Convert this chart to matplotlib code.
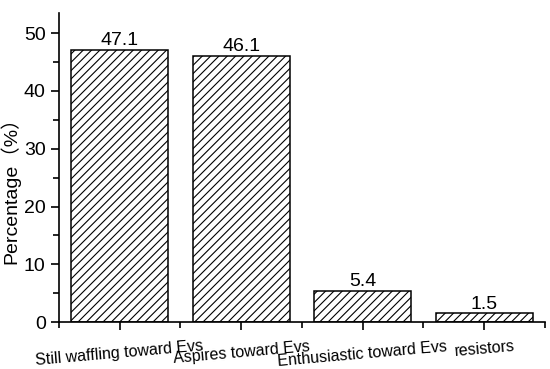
import numpy as np
import matplotlib.pyplot as plt
from matplotlib.ticker import FixedLocator

categories = ['Still waffling toward Evs', 'Aspires toward Evs',
              'Enthusiastic toward Evs', 'resistors']
values = [47.1, 46.1, 5.4, 1.5]
yticks = [0, 10, 20, 30, 40, 50]

plt.rcParams['font.family'] = ['Liberation Sans', 'Noto Sans CJK SC', 'DejaVu Sans']
plt.rcParams['hatch.linewidth'] = 0.8

fig = plt.figure(figsize=(5.5, 3.69), dpi=100)
ax = fig.add_axes([0.107, 0.127, 0.884, 0.838])

x = np.arange(1, len(categories) + 1)
bars = ax.bar(x, values, width=0.8, color='white', edgecolor='black',
              linewidth=1.1, hatch='////')

for xi, v in zip(x, values):
    ax.text(xi, v + 0.15, f'{v}', ha='center', va='bottom', fontsize=14)

ax.set_xlim(0.5, 4.5)
ax.set_ylim(0, 53.5)
ax.set_yticks(yticks)
ax.yaxis.set_minor_locator(FixedLocator([5, 15, 25, 35, 45]))
ax.set_xticks(x)
ax.set_xticklabels(categories, rotation=5, fontsize=11.5)
ax.xaxis.set_minor_locator(FixedLocator([0.5, 1.5, 2.5, 3.5, 4.5]))

ax.spines['top'].set_visible(False)
ax.spines['right'].set_visible(False)
ax.spines['left'].set_linewidth(1.2)
ax.spines['bottom'].set_linewidth(1.2)
ax.tick_params(axis='both', which='major', direction='out', length=6, width=1.2, labelsize=14)
ax.tick_params(axis='both', which='minor', direction='out', length=4, width=1.2)
ax.tick_params(axis='x', labelsize=11.5, pad=6)

ax.set_ylabel('Percentage（%）', fontsize=14)
ax.yaxis.set_label_coords(-0.08, 0.44)

fig.savefig('out.png', dpi=100)
